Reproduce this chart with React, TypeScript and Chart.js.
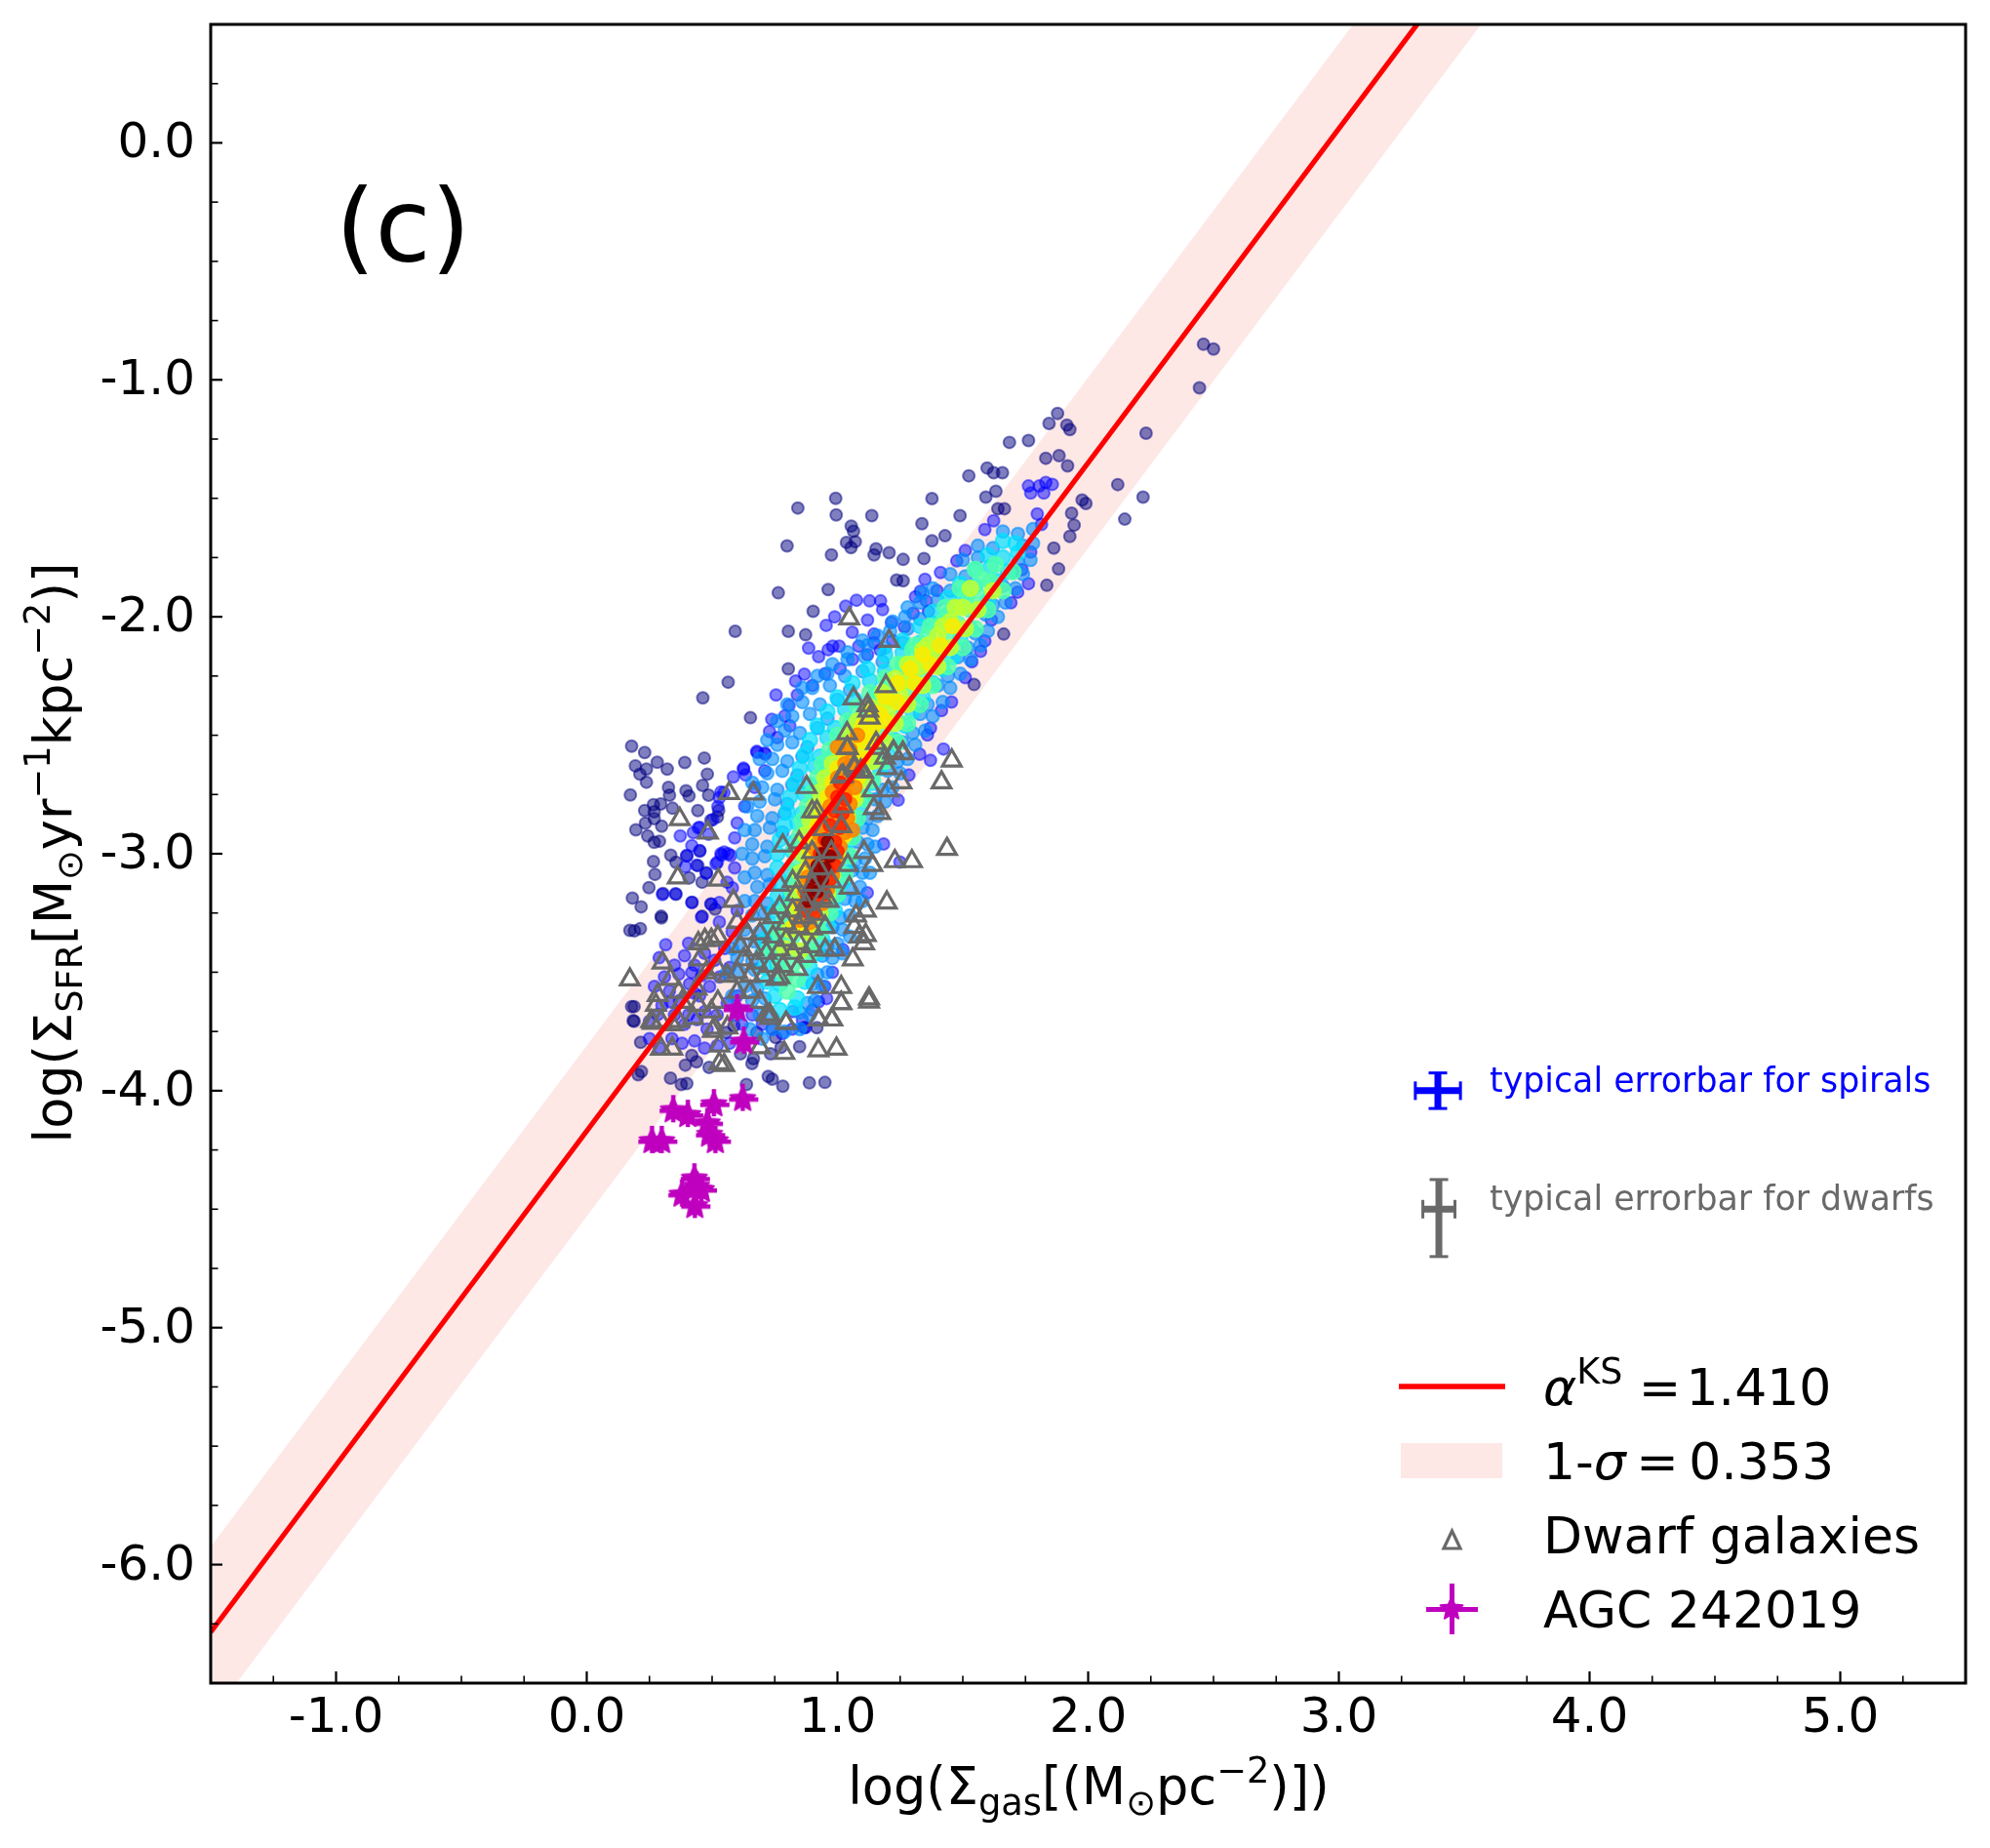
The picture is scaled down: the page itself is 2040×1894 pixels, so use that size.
import React, { useEffect, useRef } from 'react';
import Chart from 'chart.js/auto';

// all flat lists below are x,y,x,y,... in data units
const sparsePts = [
2.444,-1.034,2.231,-1.225,1.878,-1.142,1.844,-1.184,1.915,-1.191,1.927,-1.21,1.762,-1.256,1.686,-1.264,1.831,-1.331,1.884,-1.32,1.918,-1.363,1.597,-1.372,1.623,-1.392,1.658,-1.392,1.524,-1.405,2.118,-1.442,2.219,-1.495,2.146,-1.588,1.976,-1.507,1.991,-1.522,1.934,-1.563,1.944,-1.613,1.927,-1.661,1.863,-1.71,1.882,-1.798,1.835,-1.867,1.377,-1.501,1.592,-1.495,1.632,-1.47,1.64,-1.544,1.666,-1.544,1.489,-1.573,1.337,-1.607,1.429,-1.658,1.377,-1.679,
.993,-1.5,.842,-1.541,.995,-1.57,1.137,-1.573,1.055,-1.617,1.064,-1.639,1.036,-1.686,1.071,-1.683,1.054,-1.708,.799,-1.701,.976,-1.739,1.154,-1.713,1.146,-1.739,1.206,-1.73,1.262,-1.758,1.345,-1.754,1.236,-1.845,1.262,-1.848,.963,-1.885,.764,-1.899,.903,-1.977,.592,-2.061,.804,-2.061,.564,-2.276,.463,-2.342,.653,-2.426,.873,-2.076,.804,-2.22,1.545,-2.286,1.663,-2.073,2.46,-.85,2.5,-.87,
.179,-2.546,.231,-2.573,.281,-2.614,.391,-2.615,.469,-2.596,.194,-2.629,.238,-2.643,.321,-2.643,.212,-2.664,.481,-2.664,.238,-2.698,.174,-2.752,.326,-2.72,.33,-2.753,.396,-2.734,.408,-2.756,.462,-2.712,.486,-2.753,.266,-2.793,.295,-2.79,.231,-2.818,.269,-2.823,.342,-2.808,.269,-2.852,.234,-2.871,.196,-2.899,.299,-2.884,.243,-2.925,.269,-2.952,.29,-2.947,.443,-2.818,.526,-2.818,.521,-2.845,.495,-2.859,.335,-3.006,.266,-3.033,.272,-3.087,.248,-3.143,.399,-3.009,.451,-2.989,.356,-3.036,.443,-3.05,.477,-3.08,.408,-3.102,.46,-3.12,.304,-3.168,.356,-3.171,.182,-3.187,.217,-3.224,.42,-3.205,.495,-3.212,.512,-3.234,.297,-3.264,.46,-3.264,.172,-3.323,.19,-3.325,.214,-3.316,.298,-3.271,.179,-3.645,.185,-3.704,
.189,-3.645,.189,-3.707,.215,-3.796,.205,-3.933,.218,-3.919,.334,-3.947,.377,-3.974,.399,-3.97,.393,-3.892,.438,-3.878,.419,-3.851,.488,-3.902,.637,-3.974,.724,-3.94,.74,-3.951,.782,-3.981,.888,-3.967,.95,-3.965,.659,-3.885,.665,-3.865,.613,-3.844,.733,-3.844,.775,-3.817,.849,-3.814,.753,-3.775,.555,-3.755,.587,-3.727,.678,-3.755,.866,-3.734,.918,-3.734,
];
const bluePts = [
.547,-2.742,.529,-2.764,.451,-2.889,.425,-2.911,.486,-2.918,.373,-2.925,.564,-3,.538,-3.006,.521,-3.036,.59,-2.933,.625,-2.639,.634,-2.668,.585,-2.676,.738,-2.433,.729,-2.484,.68,-2.573,.712,-2.58,.833,-2.271,.755,-2.33,.807,-2.374,.79,-2.418,.981,-2.124,1.007,-2.124,.963,-2.139,1.12,-2.014,1.18,-1.97,1.076,-1.93,1.033,-1.955,1.128,-1.933,1.172,-1.933,.989,-2,.955,-2.036,1.059,-2.065,1.146,-2.073,1.085,-2.124,1.146,-2.11,.885,-2.132,.925,-2.168,.868,-2.242,1.285,-2.668,1.371,-2.606,1.328,-2.58,1.423,-2.558,1.359,-2.499,1.371,-2.47,1.415,-2.396,1.455,-2.36,1.51,-2.257,1.571,-2.146,1.588,-2.102,1.536,-2.19,1.614,-2.014,1.692,-1.941,1.719,-1.896,1.762,-1.86,1.736,-1.801,1.771,-1.727,1.797,-1.566,1.814,-1.61,1.762,-1.448,1.805,-1.448,1.831,-1.433,1.857,-1.441,1.823,-1.478,1.771,-1.478,1.623,-1.595,1.588,-1.632,1.51,-1.72,1.476,-1.764,1.411,-1.813,1.349,-1.842,1.331,-1.892,1.311,-1.916,1.354,-1.933,1.302,-1.985,1.267,-2.043,1.215,-2.024,1.363,-1.977,1.397,-1.889,
.626,-2.644,.678,-2.568,.71,-2.575,.535,-2.74,.523,-2.801,.503,-2.856,.445,-2.891,.419,-2.966,.399,-3.007,.451,-2.987,.548,-2.993,.535,-3,.574,-3.007,.516,-3.042,.477,-3.083,.438,-3.048,.393,-3.055,.302,-3.172,.354,-3.169,.419,-3.206,.458,-3.268,.497,-3.213,.529,-3.206,.529,-3.288,.581,-3.144,.406,-3.378,.315,-3.384,.289,-3.439,.367,-3.508,.419,-3.501,.458,-3.515,.432,-3.59,.471,-3.666,.406,-3.679,.283,-3.679,.334,-3.625,.25,-3.707,.821,-3.666,.873,-3.734,.925,-3.625,.957,-3.611,1.022,-3.405,1.119,-3.165,1.184,-2.959,1.249,-3.035,1.242,-2.774,
.27,-3.56,.31,-3.52,.35,-3.47,.39,-3.43,.43,-3.47,.47,-3.42,.51,-3.45,.55,-3.4,.33,-3.58,.37,-3.62,.41,-3.55,.45,-3.6,.49,-3.56,.53,-3.52,.57,-3.48,.3,-3.64,.35,-3.68,.39,-3.72,.44,-3.7,.48,-3.74,.52,-3.68,.56,-3.63,.6,-3.6,.25,-3.78,.29,-3.82,.34,-3.78,.38,-3.8,.43,-3.79,.47,-3.82,.52,-3.81,.57,-3.8,.62,-3.72,.66,-3.68,.7,-3.72,.74,-3.74,.78,-3.76,.82,-3.74,.86,-3.7,.9,-3.66,.95,-3.56,.98,-3.5,
.84,-2.33,.9,-2.29,.95,-2.24,1.01,-2.22,1.06,-2.18,1.12,-2.16,1.17,-2.14,1.22,-2.1,.81,-2.46,.76,-2.51,.71,-2.65,.67,-2.72,.63,-2.8,.6,-2.87,.59,-3.06,.56,-3.12,.6,-3.24,.58,-3.33,
];
const skyPts = [
1.66,-1.64,1.72,-1.65,1.78,-1.63,1.56,-1.7,1.62,-1.71,1.78,-1.69,1.74,-1.7,1.5,-1.76,1.56,-1.75,1.77,-1.76,1.72,-1.77,1.45,-1.82,1.51,-1.83,1.74,-1.82,1.7,-1.81,1.38,-1.88,1.45,-1.89,1.71,-1.88,1.66,-1.87,1.33,-1.94,1.4,-1.93,1.67,-1.94,1.62,-1.95,1.27,-2,1.33,-2.01,1.64,-2,1.59,-1.99,1.21,-2.06,1.28,-2.05,1.6,-2.06,1.55,-2.07,1.12,-2.12,1.19,-2.13,1.26,-2.11,1.57,-2.12,1.52,-2.13,1.04,-2.18,1.11,-2.17,1.18,-2.19,1.53,-2.18,1.48,-2.17,.96,-2.24,1.03,-2.25,1.1,-2.23,1.49,-2.24,1.44,-2.25,.9,-2.3,.97,-2.29,1.05,-2.31,1.45,-2.3,1.4,-2.29,.86,-2.36,.93,-2.37,1,-2.35,1.42,-2.36,1.36,-2.37,.82,-2.42,.89,-2.41,.96,-2.43,1.38,-2.42,1.33,-2.41,.79,-2.48,.85,-2.49,.92,-2.47,1.35,-2.48,1.3,-2.49,.76,-2.54,.82,-2.53,.88,-2.55,1.31,-2.54,1.26,-2.53,.74,-2.6,.8,-2.61,.86,-2.59,1.28,-2.6,1.24,-2.61,.72,-2.66,.78,-2.65,.84,-2.67,1.25,-2.66,1.2,-2.65,.7,-2.72,.76,-2.73,.82,-2.71,1.22,-2.72,1.18,-2.73,.69,-2.78,.75,-2.77,.8,-2.79,1.19,-2.78,1.15,-2.77,.68,-2.84,.74,-2.85,.79,-2.83,1.16,-2.84,1.12,-2.85,.67,-2.9,.73,-2.89,.78,-2.91,1.14,-2.9,1.1,-2.89,.66,-2.96,.72,-2.97,1.12,-2.96,1.08,-2.95,.66,-3.02,.71,-3.01,1.11,-3.02,1.07,-3.03,.67,-3.08,.72,-3.09,1.1,-3.08,1.06,-3.07,.68,-3.14,.73,-3.13,1.09,-3.14,1.05,-3.15,.67,-3.2,.72,-3.21,1.07,-3.2,1.03,-3.19,.66,-3.26,.71,-3.25,1.05,-3.26,1.01,-3.27,.63,-3.32,.69,-3.33,1.02,-3.32,.98,-3.31,.61,-3.38,.67,-3.37,1,-3.38,.96,-3.39,.6,-3.44,.66,-3.45,.98,-3.44,.94,-3.43,.61,-3.5,.67,-3.49,.96,-3.5,.92,-3.51,.63,-3.56,.68,-3.57,.94,-3.56,.9,-3.55,.66,-3.62,.71,-3.61,.91,-3.62,.88,-3.63,.69,-3.68,.74,-3.69,.89,-3.68,.85,-3.67,.74,-3.74,.79,-3.75,.85,-3.74,
.92,-2.25,.98,-2.2,1.04,-2.15,1.1,-2.1,1.16,-2.08,1.22,-2.02,1.28,-1.96,1.34,-1.9,.86,-2.3,.8,-2.37,.76,-2.44,.72,-2.52,.69,-2.6,.66,-2.7,.64,-2.8,.63,-2.9,.62,-3,.63,-3.1,.63,-3.2,.58,-3.4,.56,-3.5,.58,-3.6,.6,-3.68,.65,-3.74,.7,-3.78,1.02,-3.42,1.05,-3.35,1.1,-3.2,1.13,-3.08,1.15,-2.97,
];
const cyanPts = [
1.66,-1.68,1.71,-1.69,1.6,-1.74,1.66,-1.75,1.72,-1.73,1.55,-1.8,1.61,-1.79,1.68,-1.81,1.49,-1.86,1.55,-1.87,1.64,-1.85,1.44,-1.92,1.5,-1.91,1.6,-1.93,1.38,-1.98,1.44,-1.99,1.57,-1.97,1.33,-2.04,1.39,-2.03,1.53,-2.05,1.26,-2.1,1.33,-2.11,1.49,-2.09,1.19,-2.16,1.26,-2.15,1.46,-2.17,1.12,-2.22,1.19,-2.23,1.26,-2.21,1.42,-2.22,1.06,-2.28,1.13,-2.27,1.21,-2.29,1.38,-2.28,1,-2.34,1.07,-2.35,1.15,-2.33,1.34,-2.34,.96,-2.4,1.03,-2.39,1.1,-2.41,1.3,-2.4,.92,-2.46,.99,-2.47,1.05,-2.45,1.27,-2.46,.89,-2.52,.96,-2.51,1.02,-2.53,1.23,-2.52,.87,-2.58,.93,-2.59,.99,-2.57,1.2,-2.58,.85,-2.64,.91,-2.63,.96,-2.65,1.17,-2.64,.83,-2.7,.89,-2.71,1.14,-2.7,.81,-2.76,.87,-2.75,1.11,-2.76,.8,-2.82,.86,-2.83,1.09,-2.82,.79,-2.88,.84,-2.87,1.07,-2.88,.77,-2.94,.83,-2.95,1.05,-2.94,.76,-3,.82,-2.99,1.04,-3,.76,-3.06,.81,-3.07,1.03,-3.06,.77,-3.12,.82,-3.11,1.02,-3.12,.76,-3.18,.81,-3.19,1,-3.18,.75,-3.24,.8,-3.23,.99,-3.24,.73,-3.3,.78,-3.31,.96,-3.3,.71,-3.36,.76,-3.35,.94,-3.36,.7,-3.42,.75,-3.43,.92,-3.42,.71,-3.48,.76,-3.47,.89,-3.48,.72,-3.54,.77,-3.55,.87,-3.54,.75,-3.6,.84,-3.61,.77,-3.66,.83,-3.65,
];
const greenPts = [
1.63,-1.78,1.58,-1.84,1.61,-1.85,1.52,-1.9,1.56,-1.91,1.47,-1.96,1.53,-1.97,1.42,-2.02,1.48,-2.03,1.36,-2.08,1.44,-2.09,1.3,-2.14,1.37,-2.15,1.42,-2.13,1.24,-2.2,1.31,-2.21,1.38,-2.19,1.19,-2.26,1.27,-2.27,1.34,-2.25,1.13,-2.32,1.21,-2.33,1.3,-2.31,1.08,-2.38,1.16,-2.39,1.26,-2.37,1.04,-2.44,1.11,-2.45,1.23,-2.43,1,-2.5,1.07,-2.51,1.19,-2.49,.97,-2.56,1.04,-2.57,1.16,-2.55,.94,-2.62,1.01,-2.63,1.13,-2.61,.92,-2.68,.98,-2.69,1.1,-2.67,.9,-2.74,.96,-2.75,1.07,-2.73,.88,-2.8,.94,-2.81,1.05,-2.79,.86,-2.86,.92,-2.87,1.03,-2.85,.85,-2.92,.9,-2.93,1.01,-2.91,.83,-2.98,.89,-2.99,1,-2.97,.83,-3.04,.88,-3.05,.99,-3.03,.83,-3.1,.87,-3.11,.98,-3.09,.82,-3.16,.86,-3.17,.96,-3.15,.81,-3.22,.85,-3.23,.95,-3.21,.79,-3.28,.84,-3.29,.93,-3.27,.77,-3.34,.82,-3.35,.91,-3.33,.76,-3.4,.81,-3.41,.89,-3.39,.77,-3.46,.82,-3.47,.87,-3.45,.79,-3.52,.84,-3.53,.8,-3.58,
1.55,-1.8,1.7,-1.81,1.49,-1.88,1.66,-1.89,1.43,-1.96,1.6,-1.97,1.37,-2.04,1.55,-2.05,1.31,-2.12,1.5,-2.13,1.26,-2.2,1.44,-2.21,1.2,-2.28,1.38,-2.29,1.14,-2.36,1.33,-2.37,1.09,-2.44,1.28,-2.45,1.04,-2.52,1.24,-2.53,1,-2.6,1.19,-2.61,.96,-2.68,1.14,-2.69,.93,-2.76,1.11,-2.77,.9,-2.84,1.08,-2.85,.88,-2.92,1.06,-2.93,.86,-3,1.05,-3.01,.84,-3.08,1.03,-3.09,.82,-3.16,1,-3.17,.79,-3.24,.97,-3.25,.76,-3.32,.93,-3.33,.73,-3.4,.9,-3.41,
];
const limePts = [
1.5,-1.96,1.45,-2.02,1.4,-2.08,1.34,-2.14,1.38,-2.15,1.28,-2.2,1.33,-2.21,1.23,-2.26,1.29,-2.27,1.18,-2.32,1.25,-2.33,1.13,-2.38,1.2,-2.39,1.08,-2.44,1.15,-2.45,1.04,-2.5,1.12,-2.51,1.01,-2.56,1.09,-2.57,.98,-2.62,1.07,-2.63,.95,-2.68,1.05,-2.69,.93,-2.74,1.03,-2.75,.91,-2.8,1.01,-2.81,.89,-2.86,.99,-2.87,.87,-2.92,.97,-2.93,.86,-3,.95,-3.01,.85,-3.08,.95,-3.09,.84,-3.16,.93,-3.17,.83,-3.24,.91,-3.25,.81,-3.32,.88,-3.33,.79,-3.4,.85,-3.41,
1.53,-1.88,1.62,-1.89,1.47,-1.96,1.56,-1.97,1.42,-2.04,1.51,-2.05,1.36,-2.12,1.45,-2.13,1.3,-2.2,1.4,-2.21,1.25,-2.28,1.34,-2.29,1.19,-2.36,1.28,-2.37,1.14,-2.44,1.23,-2.45,1.09,-2.52,1.19,-2.53,1.04,-2.6,1.14,-2.61,1,-2.68,1.1,-2.69,.97,-2.76,1.07,-2.77,.94,-2.84,1.04,-2.85,.92,-2.92,1.02,-2.93,.91,-3,1,-3.01,.89,-3.08,.98,-3.09,.87,-3.16,.96,-3.17,.84,-3.24,.93,-3.25,.81,-3.32,.89,-3.33,
];
const yellowPts = [
1.34,-2.16,1.29,-2.22,1.24,-2.28,1.19,-2.34,1.14,-2.4,1.17,-2.41,1.1,-2.46,1.14,-2.47,1.07,-2.52,1.11,-2.53,1.03,-2.58,1.07,-2.59,1,-2.64,1.05,-2.65,.98,-2.7,1.03,-2.71,.96,-2.76,1.02,-2.77,.94,-2.82,1,-2.83,.92,-2.88,.98,-2.89,.9,-2.94,.97,-2.95,.89,-3,.95,-3.01,.88,-3.06,.94,-3.07,.86,-3.14,.92,-3.15,.85,-3.22,.9,-3.23,.83,-3.3,.87,-3.31,
1.46,-2.04,1.41,-2.12,1.37,-2.2,1.31,-2.28,1.24,-2.36,1.19,-2.44,1.14,-2.52,1.1,-2.6,1.08,-2.68,1.06,-2.76,1.04,-2.84,1.03,-2.92,
];
const orangePts = [
1.08,-2.5,1.05,-2.56,1.03,-2.62,1.05,-2.63,1,-2.68,1.04,-2.69,.98,-2.74,1.03,-2.75,.97,-2.8,1.02,-2.81,1.05,-2.79,.95,-2.86,1,-2.87,1.04,-2.85,.93,-2.92,.98,-2.93,1.03,-2.91,.91,-2.98,.96,-2.99,1.01,-2.97,.9,-3.04,.95,-3.05,1,-3.03,.88,-3.1,.93,-3.11,.98,-3.09,.87,-3.16,.92,-3.17,.96,-3.15,.86,-3.22,.9,-3.23,.94,-3.21,.85,-3.28,.89,-3.29,
1,-2.55,1.07,-2.72,1.06,-2.9,
];
const redPts = [
1.01,-2.7,1,-2.76,1.03,-2.77,.99,-2.82,1.02,-2.83,.97,-2.88,1.01,-2.89,.95,-2.94,.99,-2.95,.93,-3,.97,-3.01,1,-2.99,.92,-3.06,.96,-3.07,.99,-3.05,.9,-3.12,.94,-3.13,.97,-3.11,.88,-3.18,.92,-3.19,.95,-3.17,.87,-3.24,.91,-3.25,
];
const darkRedPts = [
.96,-2.95,.94,-3,.97,-3.01,.92,-3.05,.95,-3.06,.91,-3.1,.94,-3.11,.89,-3.15,.92,-3.16,.88,-3.2,
];
const dwarfPts = [
1.456,-2.607,1.415,-2.699,1.437,-2.98,1.297,-3.032,1.229,-3.032,1.197,-3.206,1.126,-3.611,.172,-3.531,.877,-2.719,.782,-2.966,.568,-2.744,.665,-2.746,.371,-2.854,.483,-2.911,.363,-3.1,.525,-3.11,.585,-3.199,.6,-3.288,.795,-3.714,.925,-3.7,.979,-3.7,1.015,-3.631,1.015,-3.563,.922,-3.563,1.061,-3.446,.951,-3.405,.989,-3.405,.84,-3.487,.769,-3.522,1.106,-3.378,1.087,-3.35,1.113,-3.343,1.067,-3.309,1.113,-3.24,1.074,-3.261,1.048,-3.144,1.139,-3.048,1.106,-2.993,1.041,-3.048,.899,-2.822,.918,-2.822,1.171,-2.829,1.145,-2.808,1.139,-2.733,1.203,-2.733,1.255,-2.699,1.022,-2.671,1.093,-2.65,1.067,-2.63,1.041,-2.554,1.164,-2.554,1.223,-2.568,1.262,-2.575,
1.022,-2.801,1.015,-2.884,.944,-2.897,.976,-2.993,.899,-2.993,.847,-2.952,.925,-3.062,.873,-3.076,.821,-3.117,.976,-3.117,.899,-3.131,.769,-3.131,.834,-3.172,.938,-3.186,.873,-3.213,.964,-3.199,.769,-3.227,.821,-3.24,.86,-3.268,.912,-3.254,
.691,-3.254,.743,-3.268,.795,-3.295,.847,-3.309,.899,-3.316,.951,-3.309,.639,-3.336,.691,-3.336,.743,-3.35,.795,-3.364,.847,-3.378,.899,-3.391,.613,-3.391,.665,-3.405,.717,-3.419,.769,-3.405,.821,-3.419,.873,-3.432,.626,-3.446,.678,-3.46,.73,-3.474,.782,-3.474,.6,-3.501,.652,-3.515,.704,-3.515,.756,-3.529,
.471,-3.364,.497,-3.364,.523,-3.35,.445,-3.378,.302,-3.46,.451,-3.446,.334,-3.529,.283,-3.597,.367,-3.583,.477,-3.501,.523,-3.487,.561,-3.515,.438,-3.57,.523,-3.625,.6,-3.583,.652,-3.583,.691,-3.625,.717,-3.679,.73,-3.693,.38,-3.625,.445,-3.638,.497,-3.666,.257,-3.707,.296,-3.707,.367,-3.707,.425,-3.693,.51,-3.734,.561,-3.734,
.924,-3.83,.996,-3.823,.788,-3.841,1.126,-3.624,1.015,-3.631,.977,-3.7,.925,-3.7,.795,-3.714,.73,-3.679,.691,-3.817,.548,-3.892,.529,-3.885,.529,-3.81,.503,-3.748,.341,-3.823,.296,-3.823,.276,-3.638,.263,-3.714,.341,-3.72,
1.047,-2.007,1.206,-2.102,1.193,-2.293,1.064,-2.345,1.12,-2.374,1.123,-2.396,1.128,-2.426,1.038,-2.492,1.038,-2.554,1.154,-2.533,1.224,-2.573,1.259,-2.577,1.189,-2.595,1.198,-2.639,1.102,-2.654,1.068,-2.639,1.015,-2.675,
];
const agcPts = [
.26,-4.214,.299,-4.214,.345,-4.084,.403,-4.104,.507,-4.059,.622,-4.036,.481,-4.139,.49,-4.187,.513,-4.214,.429,-4.372,.438,-4.406,.38,-4.44,.457,-4.42,.431,-4.488,.6,-3.658,.626,-3.795,
];

// ks fit line and its scatter band
const fitX = [-1.5, 3.7];
const fitY = [-6.285, 1.047];
const bandUpper = [-5.925, 1.407];
const bandLower = [-6.645, 0.687];

// typical errorbars
const spiralBarX = [3.305, 3.485];
const spiralBarY = [-3.925, -4.075];
const spiralCentre = [3.395, -4.0];
const dwarfBarX = [3.335, 3.463];
const dwarfBarY = [-4.375, -4.7];
const dwarfCentre = [3.399, -4.5];

const toPts = (flat: number[]) => {
  const out: { x: number; y: number }[] = [];
  for (let i = 0; i < flat.length; i += 2) out.push({ x: flat[i], y: flat[i + 1] });
  return out;
};
const FONT = '"DejaVu Sans"';
const MAGENTA = '#bf00bf';
const DWARF = '#696969';

const starPath = (c: CanvasRenderingContext2D, x: number, y: number, r: number) => {
  c.beginPath();
  for (let i = 0; i < 10; i++) {
    const rr = i % 2 ? r * 0.46 : r;
    const a = (i * Math.PI) / 5;
    const px = x + Math.sin(a) * rr;
    const py = y - Math.cos(a) * rr;
    if (i) c.lineTo(px, py);
    else c.moveTo(px, py);
  }
  c.closePath();
  c.fill();
  c.stroke();
};

const makeStar = () => {
  const cv = document.createElement('canvas');
  cv.width = 42;
  cv.height = 42;
  const c = cv.getContext('2d')!;
  c.fillStyle = MAGENTA;
  c.strokeStyle = MAGENTA;
  c.lineWidth = 2;
  c.lineJoin = 'round';
  starPath(c, 21, 21, 13.5);
  c.fillRect(7, 19, 30, 4.5);
  c.fillRect(18.8, 5, 4.5, 28);
  return cv;
};

type Run = { t: string; s?: 'sub' | 'sup'; i?: boolean };

const runFont = (r: Run, size: number) => {
  const sz = r.s ? size * 0.7 : size;
  return `${r.i ? 'italic ' : ''}${sz}px ${FONT}`;
};

const drawRuns = (c: CanvasRenderingContext2D, runs: Run[], size: number, x: number, y: number, align = 'left', rot = 0) => {
  c.save();
  c.translate(x, y);
  c.rotate(rot);
  c.textBaseline = 'alphabetic';
  c.textAlign = 'left';
  let w = 0;
  runs.forEach((r) => {
    c.font = runFont(r, size);
    w += c.measureText(r.t).width;
  });
  let cx = align === 'center' ? -w / 2 : 0;
  runs.forEach((r) => {
    c.font = runFont(r, size);
    const dy = r.s === 'sub' ? size * 0.2 : r.s === 'sup' ? -size * 0.42 : 0;
    c.fillText(r.t, cx, dy);
    cx += c.measureText(r.t).width;
  });
  c.restore();
};

const xTitle: Run[] = [{ t: 'log(Σ' }, { t: 'gas', s: 'sub' }, { t: '[(M' }, { t: '⊙', s: 'sub' }, { t: 'pc' }, { t: '−2', s: 'sup' }, { t: ')])' }];
const yTitle: Run[] = [{ t: 'log(Σ' }, { t: 'SFR', s: 'sub' }, { t: '[M' }, { t: '⊙', s: 'sub' }, { t: 'yr' }, { t: '−1', s: 'sup' }, { t: 'kpc' }, { t: '−2', s: 'sup' }, { t: ')]' }];

const figurePlugin = {
  id: 'figure',
  afterDraw(chart: any) {
    const c: CanvasRenderingContext2D = chart.ctx;
    const { left, right, top, bottom } = chart.chartArea;
    const xs = chart.scales.x;
    const ys = chart.scales.y;
    c.save();
    c.strokeStyle = '#000';
    c.fillStyle = '#000';
    // inward ticks
    xs.ticks.forEach((t: any) => {
      const major = Math.abs(t.value - Math.round(t.value)) < 1e-6;
      const p = xs.getPixelForValue(t.value);
      c.lineWidth = major ? 2.2 : 1.6;
      c.beginPath();
      c.moveTo(p, bottom);
      c.lineTo(p, bottom - (major ? 12 : 7.5));
      c.stroke();
    });
    ys.ticks.forEach((t: any) => {
      const major = Math.abs(t.value - Math.round(t.value)) < 1e-6;
      const p = ys.getPixelForValue(t.value);
      c.lineWidth = major ? 2.2 : 1.6;
      c.beginPath();
      c.moveTo(left, p);
      c.lineTo(left + (major ? 12 : 7.5), p);
      c.stroke();
    });
    c.lineWidth = 3;
    c.strokeRect(left, top, right - left, bottom - top);

    drawRuns(c, xTitle, 52.5, 1116, 1849, 'center');
    drawRuns(c, yTitle, 52.5, 73, 874, 'center', -Math.PI / 2);

    c.font = `104px ${FONT}`;
    c.textAlign = 'left';
    c.textBaseline = 'alphabetic';
    c.fillText('(c)', 344, 268);

    c.font = `34.8px ${FONT}`;
    c.fillStyle = '#0000ff';
    c.fillText('typical errorbar for spirals', 1527, 1119);
    c.fillStyle = DWARF;
    c.fillText('typical errorbar for dwarfs', 1527, 1240);

    // legend
    c.fillStyle = '#000';
    drawRuns(c, [{ t: 'α', i: true }, { t: 'KS', s: 'sup' }, { t: ' =\u200a1.410' }], 52, 1582, 1440);
    drawRuns(c, [{ t: '1-' }, { t: 'σ', i: true }, { t: '\u2009=\u20090.353' }], 52, 1582, 1516);
    drawRuns(c, [{ t: 'Dwarf galaxies' }], 52, 1582, 1592);
    drawRuns(c, [{ t: 'AGC 242019' }], 52, 1582, 1668);

    c.strokeStyle = '#ff0000';
    c.lineWidth = 5.4;
    c.beginPath();
    c.moveTo(1434, 1421);
    c.lineTo(1543, 1421);
    c.stroke();
    c.fillStyle = 'rgb(253,232,230)';
    c.fillRect(1436, 1479, 104, 36);
    c.strokeStyle = DWARF;
    c.lineWidth = 3.2;
    c.lineJoin = 'miter';
    c.beginPath();
    c.moveTo(1488.5, 1569);
    c.lineTo(1497, 1587);
    c.lineTo(1480, 1587);
    c.closePath();
    c.stroke();
    c.fillStyle = MAGENTA;
    c.strokeStyle = MAGENTA;
    c.lineWidth = 2;
    c.lineJoin = 'round';
    starPath(c, 1488, 1649, 12);
    c.fillRect(1462, 1647, 53, 5);
    c.fillRect(1486, 1623, 5, 52);
    c.restore();
  },
};

const scatterSet = (flat: number[], rgb: string, radius = 6, alpha = 0.5) => ({
  data: toPts(flat),
  pointRadius: radius,
  pointBorderWidth: 2,
  pointBackgroundColor: `rgba(${rgb},${alpha})`,
  pointBorderColor: `rgba(${rgb},${alpha})`,
  showLine: false,
});

const lineSet = (xs: number[], ys: number[], colour: string, width: number) => ({
  data: xs.map((x, i) => ({ x, y: ys[i] })),
  showLine: true,
  pointRadius: 0,
  borderColor: colour,
  borderWidth: width,
  fill: false,
});

const capSet = (xs: number[], ys: number[], colour: string, rotation: number) => ({
  data: xs.map((x, i) => ({ x, y: ys[i] })),
  showLine: true,
  borderColor: colour,
  borderWidth: 7,
  pointStyle: 'line',
  pointRotation: rotation,
  pointRadius: 9.5,
  pointBorderWidth: 3,
  pointBorderColor: colour,
});

const App: React.FC = () => {
  const canvasRef = useRef<HTMLCanvasElement>(null);

  useEffect(() => {
    document.body.style.margin = '0';
    if (!canvasRef.current) return;

    // paint order, first is at the bottom
    const layers: any[] = [
      { ...lineSet(fitX, bandUpper, 'transparent', 0), fill: '+1', backgroundColor: 'rgb(253,232,230)' },
      lineSet(fitX, bandLower, 'transparent', 0),
      scatterSet(sparsePts, '0,0,128'),
      scatterSet(bluePts, '0,0,255'),
      scatterSet(skyPts, '0,140,255', 6.5, 0.6),
      scatterSet(cyanPts, '0,225,255', 7.5, 0.7),
      scatterSet(greenPts, '80,255,170', 8, 0.8),
      scatterSet(limePts, '190,255,50', 8, 0.85),
      scatterSet(yellowPts, '250,235,0', 7.5, 0.85),
      scatterSet(orangePts, '255,130,0', 7, 0.85),
      scatterSet(redPts, '255,30,0', 6.5, 0.85),
      scatterSet(darkRedPts, '130,0,0', 6, 0.85),
      {
        data: toPts(dwarfPts),
        pointStyle: 'triangle',
        pointRadius: 11,
        pointBorderWidth: 3.2,
        pointBackgroundColor: 'transparent',
        pointBorderColor: DWARF,
        showLine: false,
      },
      {
        data: toPts(agcPts),
        pointStyle: makeStar(),
        showLine: false,
      },
      lineSet(fitX, fitY, '#ff0000', 5.2),
      capSet(spiralBarX, [spiralCentre[1], spiralCentre[1]], '#0000ff', 90),
      capSet([spiralCentre[0], spiralCentre[0]], spiralBarY, '#0000ff', 0),
      capSet(dwarfBarX, [dwarfCentre[1], dwarfCentre[1]], DWARF, 90),
      capSet([dwarfCentre[0], dwarfCentre[0]], dwarfBarY, DWARF, 0),
    ];
    layers.forEach((d, i) => {
      d.order = layers.length - i;
    });

    const label = (v: number | string) => {
      const n = Number(v);
      return Math.abs(n - Math.round(n)) < 1e-6 ? n.toFixed(1) : '';
    };

    const chart = new Chart(canvasRef.current, {
      type: 'scatter',
      data: { datasets: layers },
      plugins: [figurePlugin],
      options: {
        responsive: false,
        animation: false,
        layout: { padding: { top: 25, right: 25, left: 0, bottom: 0 } },
        plugins: { legend: { display: false }, tooltip: { enabled: false } },
        scales: {
          x: {
            type: 'linear',
            min: -1.5,
            max: 5.5,
            afterFit: (s: any) => {
              s.height = 169;
              s.paddingLeft = 0;
              s.paddingRight = 0;
            },
            grid: { display: false, drawTicks: false },
            border: { display: false },
            ticks: {
              stepSize: 0.25,
              autoSkip: false,
              maxRotation: 0,
              padding: 7,
              color: '#000',
              font: { family: 'DejaVu Sans', size: 50 },
              callback: label,
            },
          },
          y: {
            type: 'linear',
            min: -6.5,
            max: 0.5,
            afterFit: (s: any) => {
              s.width = 216;
              s.paddingTop = 0;
              s.paddingBottom = 0;
            },
            grid: { display: false, drawTicks: false },
            border: { display: false },
            ticks: {
              stepSize: 0.25,
              autoSkip: false,
              padding: 16,
              labelOffset: 2,
              color: '#000',
              font: { family: 'DejaVu Sans', size: 50 },
              callback: label,
            },
          },
        },
      } as any,
    });

    return () => {
      chart.destroy();
    };
  }, []);

  return (
    <div style={{ width: 2040, height: 1894, background: '#fff' }}>
      <canvas ref={canvasRef} width={2040} height={1894} style={{ display: 'block' }}></canvas>
    </div>
  );
};

export default App;
